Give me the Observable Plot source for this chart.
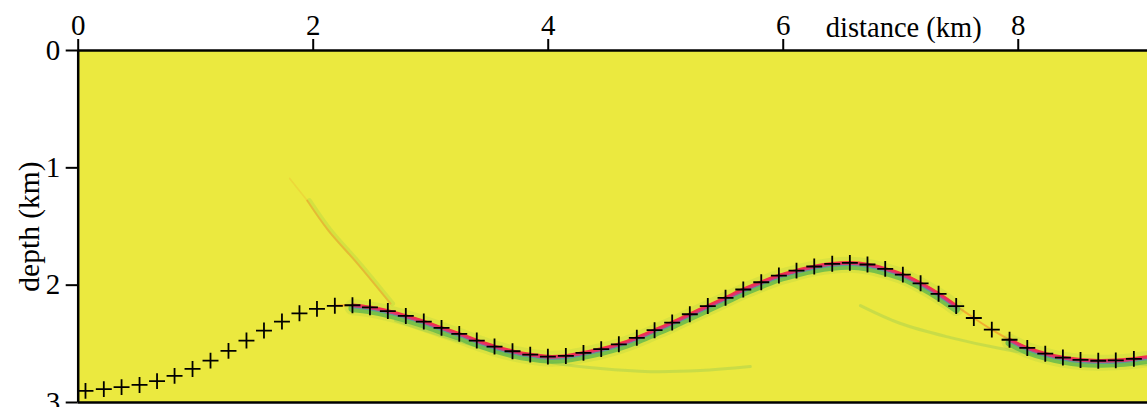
<!DOCTYPE html>
<html><head><meta charset="utf-8">
<script src="https://cdn.jsdelivr.net/npm/d3@7"></script>
<script src="https://cdn.jsdelivr.net/npm/@observablehq/plot@0.6"></script>
<style>body{margin:0;background:#fff}</style>
</head><body><div id="chart"></div>
<script>
// ---- data (km) ----
const xTicks = [0, 2, 4, 6, 8];
const yTicks = [0, 1, 2, 3];
const picksX = [0.062,0.218,0.369,0.522,0.671,0.820,0.973,1.126,1.279,1.432,1.581,1.734,1.883,2.032,2.184,2.334,2.483,2.635,2.788,2.941,3.092,3.243,3.392,3.543,3.696,3.847,3.997,4.150,4.300,4.451,4.601,4.754,4.905,5.055,5.205,5.358,5.509,5.660,5.813,5.963,6.113,6.264,6.417,6.567,6.717,6.868,7.018,7.169,7.322,7.472,7.622,7.775,7.926,8.077,8.230,8.380,8.530,8.681,8.830,8.984];
const picksZ = [2.901,2.886,2.869,2.850,2.818,2.773,2.714,2.643,2.560,2.472,2.387,2.310,2.240,2.202,2.176,2.171,2.189,2.221,2.262,2.310,2.364,2.415,2.472,2.523,2.563,2.592,2.609,2.603,2.577,2.545,2.504,2.449,2.384,2.319,2.248,2.178,2.108,2.037,1.975,1.918,1.876,1.841,1.818,1.810,1.824,1.861,1.910,1.984,2.074,2.178,2.280,2.379,2.465,2.535,2.584,2.617,2.637,2.644,2.641,2.628];
const reflEndX = 9.1, reflEndZ = 2.612;
const streakX = [1.95, 2.130, 2.377, 2.658];
const streakZ = [1.28, 1.535, 1.816, 2.157];
const streakTopX = [1.80, 1.95];
const streakTopZ = [1.09, 1.28];
const tailLX = [2.70, 3.17, 3.594, 4.019, 4.445, 4.87, 5.296, 5.72];
const tailLZ = [2.302, 2.455, 2.575, 2.660, 2.711, 2.737, 2.728, 2.694];
const tailRX = [6.657, 6.998, 7.424, 7.849, 8.275, 8.700, 9.1];
const tailRZ = [2.174, 2.327, 2.447, 2.540, 2.609, 2.651, 2.677];

// ---- tables ----
const picks = picksX.map((x, i) => ({x, z: picksZ[i]}));
const refl = picks.concat([{x: reflEndX, z: reflEndZ}]);
const lead = refl.slice(14, 17);
const seg1 = refl.slice(15, 50);
const fade = refl.slice(48, 54);
const seg2 = refl.slice(52);
const streak = streakX.map((x, i) => ({x, z: streakZ[i]}));
const streakTop = streakTopX.map((x, i) => ({x, z: streakTopZ[i]}));
const tailL = tailLX.map((x, i) => ({x, z: tailLZ[i]}));
const tailR = tailRX.map((x, i) => ({x, z: tailRZ[i]}));

const yellow = "#ebe93f", green = "#5fb84c", red = "#f2304c", magenta = "#c83a8e", orange = "#f39a2a";
const C = "catmull-rom";
const band = (data) => [
  Plot.line(data, {x: "x", y: "z", curve: C, stroke: green, strokeWidth: 16, strokeOpacity: 0.12, dy: 2}),
  Plot.line(data, {x: "x", y: "z", curve: C, stroke: green, strokeWidth: 8, strokeOpacity: 0.8, dy: 3}),
  Plot.line(data, {x: "x", y: "z", curve: C, stroke: "#4a7fd0", strokeWidth: 2.5, strokeOpacity: 0.55, dy: 2}),
  Plot.line(data, {x: "x", y: "z", curve: C, stroke: red, strokeWidth: 3.6}),
  Plot.line(data, {x: "x", y: "z", curve: C, stroke: magenta, strokeWidth: 1.4, strokeOpacity: 0.8, dy: 1})
];

const chart = Plot.plot({
  width: 1147, height: 407,
  marginLeft: 77.7, marginTop: 50, marginRight: 0, marginBottom: 5,
  x: {domain: [0, 9.1]},
  y: {domain: [0, 3], reverse: true},
  style: {fontFamily: "'Liberation Serif', 'DejaVu Serif', serif", background: "white", color: "black"},
  marks: [
    Plot.frame({fill: yellow, stroke: "none"}),
    Plot.line(streak, {x: "x", y: "z", curve: C, stroke: green, strokeWidth: 5, strokeOpacity: 0.16, dx: 2}),
    Plot.line(streak, {x: "x", y: "z", curve: C, stroke: orange, strokeWidth: 2, strokeOpacity: 0.55}),
    Plot.line(streakTop, {x: "x", y: "z", curve: C, stroke: orange, strokeWidth: 1.6, strokeOpacity: 0.22}),
    Plot.line(tailL, {x: "x", y: "z", curve: C, stroke: "#7bbf5a", strokeWidth: 3, strokeOpacity: 0.3}),
    Plot.line(tailR, {x: "x", y: "z", curve: C, stroke: "#7bbf5a", strokeWidth: 3, strokeOpacity: 0.3}),
    Plot.line(lead, {x: "x", y: "z", curve: C, stroke: orange, strokeWidth: 2.4, strokeOpacity: 0.85}),
    Plot.line(fade, {x: "x", y: "z", curve: C, stroke: orange, strokeWidth: 2, strokeOpacity: 0.75}),
    ...band(seg1),
    ...band(seg2),
    Plot.dot(picks, {x: "x", y: "z", symbol: "plus", r: 5.2, stroke: "black", strokeWidth: 1.8}),
    Plot.ruleY([0, 3], {stroke: "black", strokeWidth: 2.5}),
    Plot.ruleX([0], {stroke: "black", strokeWidth: 2.5}),
    Plot.axisX({anchor: "top", ticks: xTicks, tickSize: 12, tickPadding: 4, fontSize: 29, strokeWidth: 2, label: null, tickFormat: d => d}),
    Plot.axisY({anchor: "left", ticks: yTicks, tickSize: 12, tickPadding: 6, fontSize: 29, strokeWidth: 2, label: null, tickFormat: d => d}),
    Plot.text(["distance (km)"], {frameAnchor: "top-left", dx: 825.6, dy: -13.5, fontSize: 28.5, textAnchor: "middle", lineAnchor: "bottom", fill: "black"}),
    Plot.text(["depth (km)"], {frameAnchor: "left", dx: -48.5, rotate: -90, fontSize: 29.5, textAnchor: "middle", lineAnchor: "middle", fill: "black"})
  ]
});
document.getElementById("chart").appendChild(chart);
</script>
</body></html>
